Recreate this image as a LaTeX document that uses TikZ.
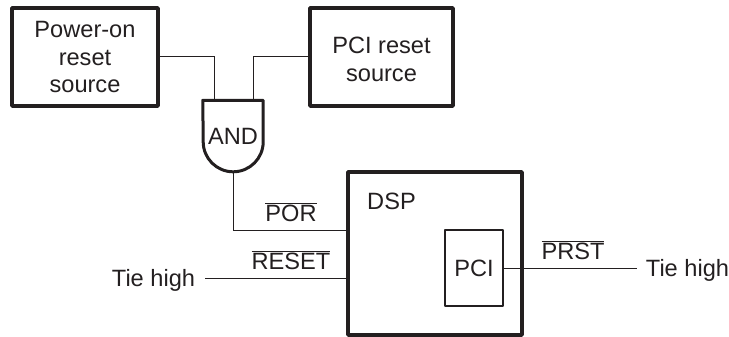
\documentclass[tikz,border=0pt]{standalone}
\usepackage{fontspec}
\setmainfont{Liberation Sans}
\usetikzlibrary{calc}
\definecolor{tiink}{RGB}{35,31,32}
\newcommand{\barlabel}[1]{$\overline{\mbox{#1}}$}

\begin{document}
\begin{tikzpicture}[x=1pt, y=-1pt,
    heavybox/.style={draw=tiink, line width=3.4pt, line join=round, inner sep=0pt, align=center, text=tiink, font=\fontsize{23.6}{27.5}\selectfont},
    thinbox/.style={heavybox, line width=2pt},
    plainlabel/.style={inner sep=0pt, align=center, text=tiink, font=\fontsize{23.6}{27.5}\selectfont},
    wire/.style={draw=tiink, line width=1pt}
  ]
  \useasboundingbox (0,0) rectangle (729,337);

  % Reset sources
  \node[heavybox, minimum width=146pt, minimum height=98pt] (psrc) at (85,57) {Power-on\\reset\\source};
  \node[heavybox, minimum width=143pt, minimum height=98pt] (pcisrc) at (381.5,57) {};
  \node[plainlabel] (pcisrclabel) at (381.5,59.5) {PCI reset\\source};

  % AND gate
  \node[plainlabel, minimum width=60pt, minimum height=72pt] (andgate) at (233,136.5) {AND};
  \draw[draw=tiink, line width=3pt, line join=round] (andgate.north west) -- (andgate.north east) -- ++(0,41.5)
    arc[start angle=0, end angle=-180, radius=30pt] -- cycle;
  \coordinate (andin1) at ($(andgate.north)+(-19,0)$);
  \coordinate (andin2) at ($(andgate.north)+(20,0)$);

  % DSP with PCI block
  \node[heavybox, minimum width=174pt, minimum height=163pt] (dsp) at (435,253.5) {};
  \node[plainlabel] (dsplabel) at (391.5,201) {DSP};
  \node[thinbox, minimum width=58pt, minimum height=76pt] (pci) at (474,268) {PCI};

  % Tie high ends
  \node[plainlabel] (tieleft) at (153.5,280) {Tie high};
  \node[plainlabel] (tieright) at (687.5,270) {Tie high};
  \coordinate (tieleftend) at (205,278);
  \coordinate (tierightend) at (637,268);

  % Connections
  \draw[wire] (psrc.east) -| (andin1);
  \draw[wire] (pcisrc.west) -| (andin2);
  \draw[wire] (andgate.south) -- (233,230) -- (dsp.west |- 233,230);
  \draw[wire] (tieleftend) -- (dsp.west |- tieleftend);
  \draw[wire] (pci.east) -- (tierightend);

  % Signal names
  \node[plainlabel] (porlabel) at (291,212) {\barlabel{POR}};
  \node[plainlabel] (resetlabel) at (291,260) {\barlabel{RESET}};
  \node[plainlabel] (prstlabel) at (573,250) {\barlabel{PRST}};
\end{tikzpicture}
\end{document}
